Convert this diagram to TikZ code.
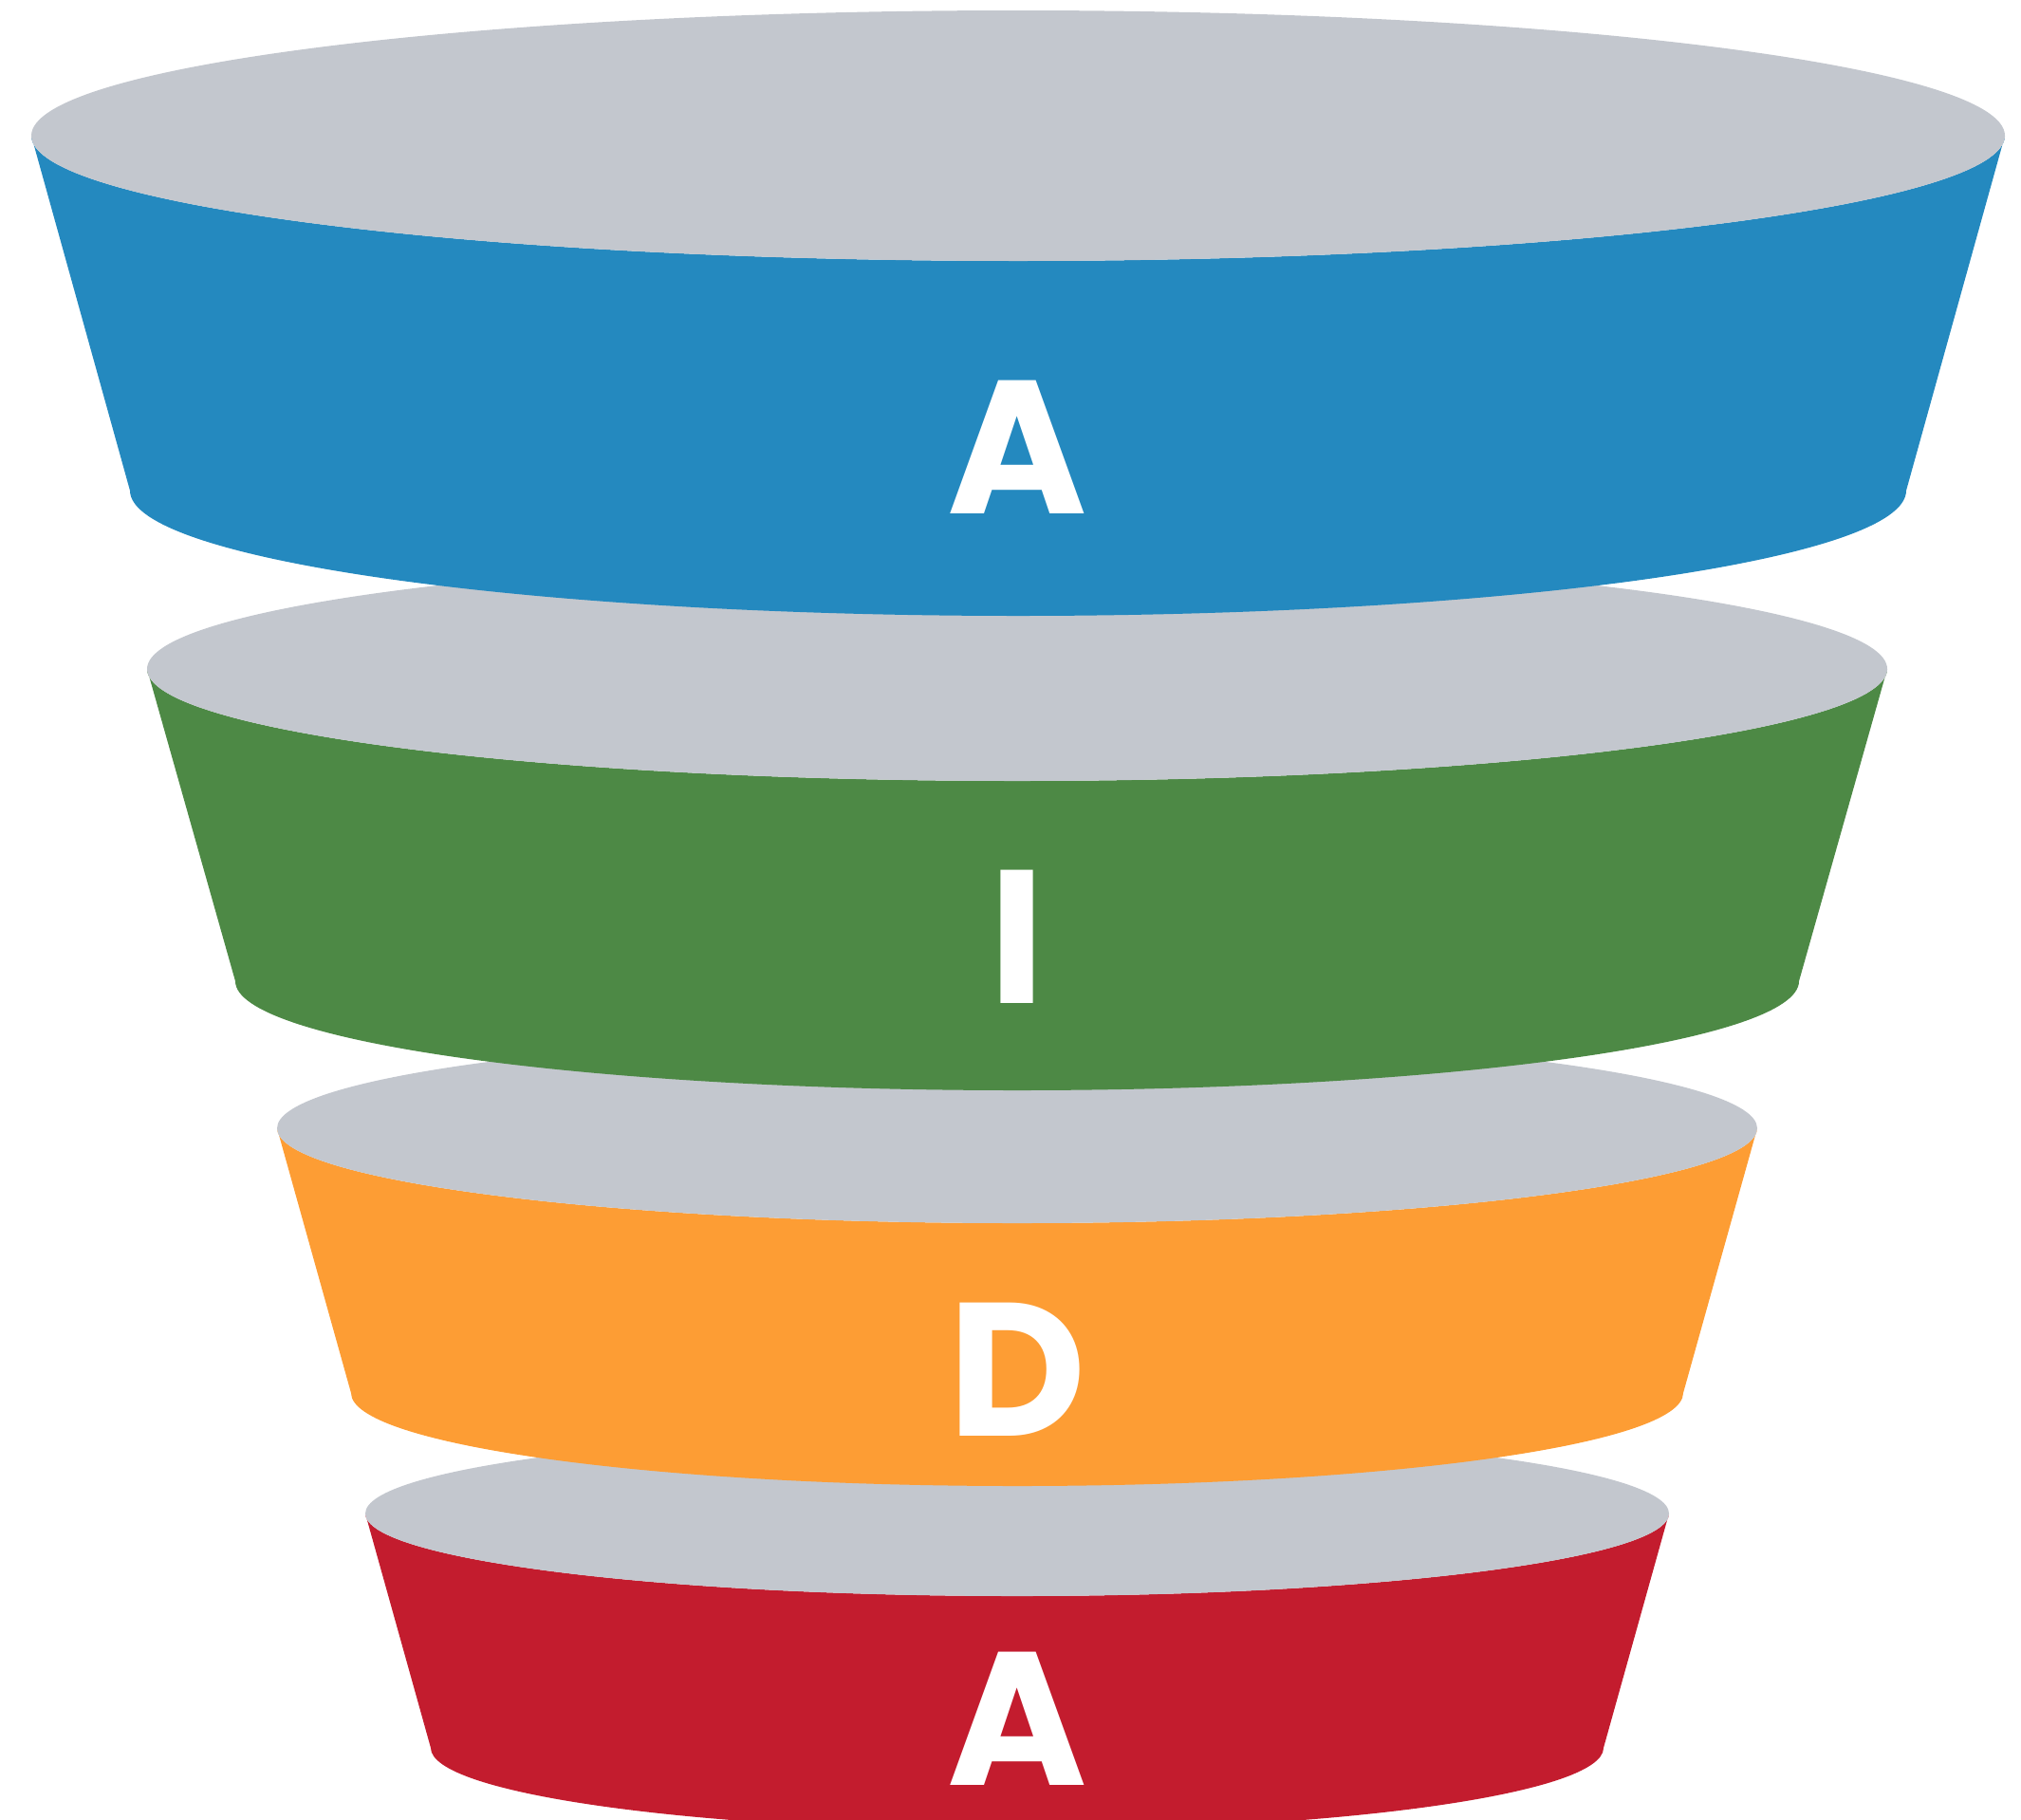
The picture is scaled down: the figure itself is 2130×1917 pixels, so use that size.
\documentclass[tikz,border=0pt]{standalone}
\usepackage{fontspec}
\newfontfamily\letterfont{Poppins}
\definecolor{rimgrey}{RGB}{195,199,206}
\definecolor{tierblue}{RGB}{36,137,191}
\definecolor{tiergreen}{RGB}{77,137,69}
\definecolor{tierorange}{RGB}{253,157,52}
\definecolor{tierred}{RGB}{195,28,46}
\tikzset{
  tierletter/.style={text=white, inner sep=0pt, anchor=base,
    font=\letterfont\bfseries\fontsize{200}{200}\selectfont},
  rim/.style={fill=rimgrey}
}
% one funnel tier: #1 colour, #2 centre x, #3 top y, #4 top x-radius, #5 top y-radius,
% #6 bottom y, #7 bottom x-radius, #8 bottom y-radius
\newcommand\funneltier[8]{%
  \fill[#1] ({#2-#4},#3) -- ({#2-#7},#6)
    arc[start angle=180, end angle=0, x radius=#7, y radius=#8]
    -- ({#2+#4},#3)
    arc[start angle=0, end angle=180, x radius=#4, y radius=#5] -- cycle;
  \fill[rim] (#2,#3) ellipse[x radius=#4, y radius=#5];
}
\begin{document}
\begin{tikzpicture}[x=1pt,y=-1pt]
\useasboundingbox (0,0) rectangle (2130,1917);
\clip (0,0) rectangle (2130,1917);
% tiers from the narrow end upwards so each upper tier overlaps the one below
\funneltier{tierred}{1072}{1595}{687}{87}{1842}{618}{87}
\funneltier{tierorange}{1072}{1189}{780}{100}{1468}{702}{98}
\funneltier{tiergreen}{1072}{705}{917}{118}{1034}{824}{115}
\funneltier{tierblue}{1073}{143}{1040}{132}{517}{936}{132}
\node[tierletter] (attention) at (1072,541) {A};
\node[tierletter] (interest) at (1072,1057) {I};
\node[tierletter] (desire) at (1072,1513) {D};
\node[tierletter] (action) at (1072,1881) {A};
\end{tikzpicture}
\end{document}
